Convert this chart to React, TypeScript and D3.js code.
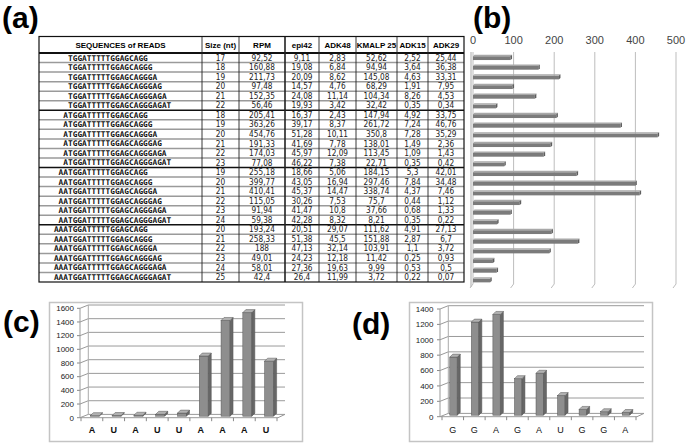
import React from "react";
import * as d3 from "d3";

const sequences = [
  "TGGATTTTTGGAGCAGG", "TGGATTTTTGGAGCAGGG", "TGGATTTTTGGAGCAGGGA", "TGGATTTTTGGAGCAGGGAG", "TGGATTTTTGGAGCAGGGAGA", "TGGATTTTTGGAGCAGGGAGAT",
  "ATGGATTTTTGGAGCAGG", "ATGGATTTTTGGAGCAGGG", "ATGGATTTTTGGAGCAGGGA", "ATGGATTTTTGGAGCAGGGAG", "ATGGATTTTTGGAGCAGGGAGA", "ATGGATTTTTGGAGCAGGGAGAT",
  "AATGGATTTTTGGAGCAGG", "AATGGATTTTTGGAGCAGGG", "AATGGATTTTTGGAGCAGGGA", "AATGGATTTTTGGAGCAGGGAG", "AATGGATTTTTGGAGCAGGGAGA", "AATGGATTTTTGGAGCAGGGAGAT",
  "AAATGGATTTTTGGAGCAGG", "AAATGGATTTTTGGAGCAGGG", "AAATGGATTTTTGGAGCAGGGA", "AAATGGATTTTTGGAGCAGGGAG", "AAATGGATTTTTGGAGCAGGGAGA", "AAATGGATTTTTGGAGCAGGGAGAT",
];
const sizes = [17, 18, 19, 20, 21, 22, 18, 19, 20, 21, 22, 23, 19, 20, 21, 22, 23, 24, 20, 21, 22, 23, 24, 25];
const rpm = [92.52, 160.88, 211.73, 97.48, 152.35, 56.46, 205.41, 363.26, 454.76, 191.33, 174.03, 77.08, 255.18, 399.77, 410.41, 115.05, 91.94, 59.38, 193.24, 258.33, 188, 49.01, 58.01, 42.4];
const epi42 = [9.11, 19.08, 20.09, 14.57, 24.08, 19.93, 16.37, 39.17, 51.28, 41.69, 45.97, 46.22, 18.66, 43.05, 45.37, 30.26, 41.47, 42.28, 20.51, 51.38, 47.13, 24.23, 27.36, 26.4];
const adk48 = [2.83, 6.84, 8.62, 4.76, 11.14, 3.42, 2.43, 8.37, 10.11, 7.78, 12.09, 7.38, 5.06, 16.94, 14.47, 7.53, 10.8, 8.32, 29.07, 45.5, 32.14, 12.18, 19.63, 11.99];
const kmalp25 = [52.62, 94.94, 145.08, 68.29, 104.34, 32.42, 147.94, 261.72, 350.8, 138.01, 113.45, 22.71, 184.15, 297.46, 338.74, 75.7, 37.66, 8.21, 111.62, 151.88, 103.91, 11.42, 9.99, 3.72];
const adk15 = [2.52, 3.64, 4.63, 1.91, 8.26, 0.35, 4.92, 7.24, 7.28, 1.49, 1.09, 0.35, 5.3, 7.84, 4.37, 0.44, 0.68, 0.35, 4.91, 2.87, 1.1, 0.25, 0.53, 0.22];
const adk29 = [25.44, 36.38, 33.31, 7.95, 4.53, 0.34, 33.75, 46.76, 35.29, 2.36, 1.43, 0.42, 42.01, 34.48, 7.46, 1.12, 1.33, 0.22, 27.13, 6.7, 3.72, 0.93, 0.5, 0.07];
const headers = ["SEQUENCES of READS", "Size (nt)", "RPM", "epi42", "ADK48", "KMALP 25", "ADK15", "ADK29"];

const bTicks = [0, 100, 200, 300, 400, 500];

const cLabels = ["A", "U", "A", "U", "U", "A", "A", "A", "U"];
const cValues = [8, 10, 14, 28, 45, 880, 1400, 1515, 805];
const cTicks = [0, 200, 400, 600, 800, 1000, 1200, 1400, 1600];

const dLabels = ["G", "G", "A", "G", "A", "U", "G", "G", "A"];
const dValues = [755, 1210, 1310, 475, 545, 255, 75, 45, 35];
const dTicks = [0, 200, 400, 600, 800, 1000, 1200, 1400];

const fmt = (v: number) => String(v).replace(".", ",");

function Chart3D(props: {
  fx: number; fy: number; fw: number; fh: number;
  axisX: number; y0: number; yT: number; max: number;
  xr: [number, number]; backRight: number; labelX: number;
  labels: string[]; values: number[]; ticks: number[];
  bold: boolean; barOff: number; barW: number;
}) {
  const { fx, fy, fw, fh, axisX, y0, yT, max, xr, backRight, labelX, labels, values, ticks, bold, barOff, barW } = props;
  const dx = 8.3, dy = -3.3, bd = 3;
  const y = d3.scaleLinear().domain([0, max]).range([y0, yT]);
  const x = d3.scaleBand<number>().domain(d3.range(labels.length)).range(xr);
  const bw = x.bandwidth();
  return (
    <g>
      <rect x={fx} y={fy} width={fw} height={fh} fill="#fff" stroke="#c4c4c4" strokeWidth={1.5} />
      {ticks.map((t) => (
        <g key={t}>
          <line x1={axisX - 3} x2={axisX} y1={y(t)} y2={y(t)} stroke="#888" />
          <line x1={axisX} x2={axisX + dx} y1={y(t)} y2={y(t) + dy} stroke="#999" />
          <line x1={axisX + dx} x2={backRight} y1={y(t) + dy} y2={y(t) + dy} stroke="#9a9a9a" />
          <text x={labelX} y={y(t)} dy="0.35em" textAnchor="end" fontSize={8} fontFamily="Liberation Sans, Arial, sans-serif" fill="#222">{t}</text>
        </g>
      ))}
      <line x1={axisX} x2={axisX} y1={y0} y2={yT} stroke="#999" />
      <line x1={axisX + dx} x2={axisX + dx} y1={y0 + dy} y2={yT + dy} stroke="#aaa" />
      <polyline points={`${axisX},${y0} ${xr[1] + 1},${y0} ${backRight},${y0 + dy}`} fill="none" stroke="#999" />
      {d3.range(labels.length + 1).map((i) => (
        <line key={i} x1={xr[0] + i * bw} x2={xr[0] + i * bw} y1={y0} y2={y0 + 3.5} stroke="#888" />
      ))}
      {values.map((v, i) => {
        const cx = (x(i) as number) + bw / 2;
        const bx = cx + barOff;
        const yb = y0 - 1.5;
        const yt = y(v) - 1.5;
        return (
          <g key={i} stroke="#555" strokeWidth={0.5}>
            <rect x={bx} y={yt} width={barW} height={Math.max(0.5, yb - yt)} fill="#8e8e8e" />
            <polygon points={`${bx + barW},${yt} ${bx + barW + bd},${yt - bd} ${bx + barW + bd},${yb - bd} ${bx + barW},${yb}`} fill="#676767" />
            <polygon points={`${bx},${yt} ${bx + bd},${yt - bd} ${bx + barW + bd},${yt - bd} ${bx + barW},${yt}`} fill="#b2b2b2" />
          </g>
        );
      })}
      {labels.map((l, i) => (
        <text key={i} x={(x(i) as number) + bw / 2} y={433} textAnchor="middle" fontSize={9} fontWeight={bold ? "bold" : "normal"} fontFamily="Liberation Sans, Arial, sans-serif" fill="#111">{l}</text>
      ))}
    </g>
  );
}

export default function App() {
  const colX = [39, 202, 239, 285, 319, 356, 397, 428, 464];
  const tableTop = 36.5, headerBottom = 53, tableBottom = 282;
  const row = d3.scaleBand<number>().domain(d3.range(sequences.length)).range([headerBottom, tableBottom]);
  const rh = row.bandwidth();
  const cols = [sizes, rpm, epi42, adk48, kmalp25, adk15, adk29];
  const charW = 4.7;

  const bx = d3.scaleLinear().domain([0, 500]).range([473, 676]);
  const by = d3.scaleBand<number>().domain(d3.range(rpm.length)).range([53, 285]);

  const numFont = "'Liberation Sans Narrow', 'DejaVu Sans Condensed', 'Liberation Sans', sans-serif";

  return (
    <svg width={686} height={446} style={{ position: "absolute", left: 0, top: 0, background: "#fff" }}>
      {[["(a)", 2, 28], ["(b)", 473, 28], ["(c)", 3, 332], ["(d)", 352, 334]].map(([t, x, yy]) => (
        <text key={t as string} x={x as number} y={yy as number} fontSize={30} fontWeight="bold" fontFamily="Liberation Sans, Arial, sans-serif" fill="#000">{t}</text>
      ))}

      <g>
        {headers.map((h, i) => (
          <text key={h} x={(colX[i] + colX[i + 1]) / 2} y={(tableTop + headerBottom) / 2} dy="0.35em" textAnchor="middle" fontSize={8} fontWeight="bold" fontFamily="Liberation Sans, Arial, sans-serif">{h}</text>
        ))}
        {sequences.map((s, i) => {
          const yy = (row(i) as number) + rh / 2;
          const pre = s.indexOf("TGGATT");
          return (
            <g key={i}>
              {i > 0 && i % 6 !== 0 && (
                <line x1={colX[0]} x2={colX[8]} y1={row(i)} y2={row(i)} stroke="#9a9a9a" strokeWidth={1.5} />
              )}
              <text x={68 - pre * charW} y={yy} dy="0.35em" fontSize={7.8} fontWeight="bold" fontFamily="'DejaVu Sans Mono', monospace" fill="#111">{s}</text>
              {cols.map((c, j) => (
                <text key={j} x={(colX[j + 1] + colX[j + 2]) / 2} y={yy} dy="0.35em" textAnchor="middle" fontSize={8.2} fontFamily={numFont} fill="#222">{fmt(c[i])}</text>
              ))}
            </g>
          );
        })}
        {[6, 12, 18].map((i) => (
          <line key={i} x1={colX[0]} x2={colX[8]} y1={row(i)} y2={row(i)} stroke="#111" strokeWidth={1.6} />
        ))}
        <line x1={colX[0]} x2={colX[8]} y1={headerBottom} y2={headerBottom} stroke="#111" strokeWidth={1.8} />
        {colX.slice(1, 8).map((cx, i) => (
          <line key={i} x1={cx} x2={cx} y1={tableTop} y2={tableBottom} stroke="#222" strokeWidth={i === 2 ? 1.6 : 0.9} />
        ))}
        <rect x={colX[0]} y={tableTop} width={colX[8] - colX[0]} height={tableBottom - tableTop} fill="none" stroke="#111" strokeWidth={1.2} />
      </g>

      <g>
        <line x1={471} x2={471} y1={52} y2={287} stroke="#aaa" />
        {bTicks.map((t) => (
          <g key={t}>
            <line x1={bx(t)} x2={bx(t)} y1={52} y2={284} stroke="#bdbdbd" />
            <line x1={bx(t)} x2={bx(t) - 3} y1={284} y2={288} stroke="#bdbdbd" />
            <text x={bx(t)} y={44} textAnchor="middle" fontSize={11} fontFamily="Liberation Sans, Arial, sans-serif" fill="#444">{t}</text>
          </g>
        ))}
        {rpm.map((v, i) => {
          const cy = (by(i) as number) + by.bandwidth() / 2;
          const x0 = bx(0), x1 = bx(v);
          return (
            <g key={i}>
              <rect x={x0} y={cy - 1.6} width={x1 - x0} height={3.8} fill="#7b7b7b" />
              <polygon points={`${x0},${cy - 1.6} ${x0 + 1.5},${cy - 3} ${x1 + 1.5},${cy - 3} ${x1},${cy - 1.6}`} fill="#a8a8a8" />
              <polygon points={`${x1},${cy - 1.6} ${x1 + 1.5},${cy - 3} ${x1 + 1.5},${cy + 0.8} ${x1},${cy + 2.2}`} fill="#5e5e5e" />
            </g>
          );
        })}
      </g>

      <Chart3D fx={49.5} fy={302.5} fw={253} fh={139} axisX={80} y0={417.7} yT={308.3} max={1600}
        xr={[81, 277]} backRight={285} labelX={74} labels={cLabels} values={cValues} ticks={cTicks}
        bold={true} barOff={-1.5} barW={9} />
      <Chart3D fx={409.5} fy={302.5} fw={243} fh={139} axisX={440} y0={416.7} yT={309} max={1400}
        xr={[442, 636]} backRight={644} labelX={433.5} labels={dLabels} values={dValues} ticks={dTicks}
        bold={false} barOff={-3} barW={7.5} />
    </svg>
  );
}
